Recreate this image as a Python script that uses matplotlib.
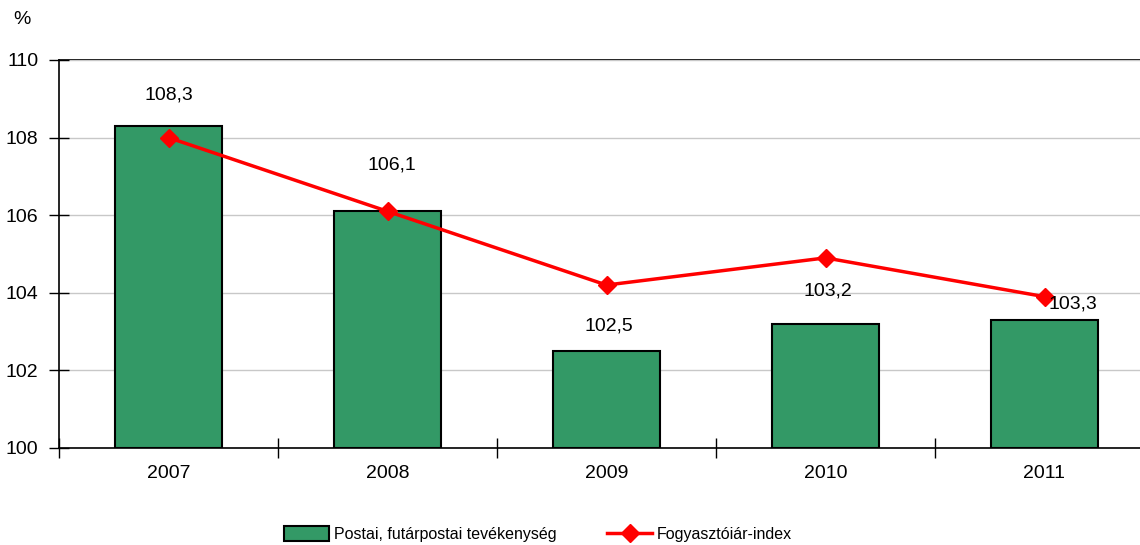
import matplotlib.pyplot as plt
import numpy as np

plt.rcParams['font.family'] = ['Liberation Sans', 'DejaVu Sans']

years = ['2007', '2008', '2009', '2010', '2011']
postai = [108.3, 106.1, 102.5, 103.2, 103.3]
fogyar = [108.0, 106.1, 104.2, 104.9, 103.9]
labels = ['108,3', '106,1', '102,5', '103,2', '103,3']

x = np.arange(len(years))
fs = 14

fig = plt.figure(figsize=(11.4, 5.45), dpi=100)
ax = fig.add_axes([59/1140, 1-448/545, 1095/1140, 388/545])

b = ax.bar(x, [v - 100 for v in postai], bottom=100, width=0.49,
           color='#339966', edgecolor='black', linewidth=1.5, zorder=2,
           label='Postai, futárpostai tevékenység')
l, = ax.plot(x, fogyar, color='#ff0000', lw=2.5, marker='D', ms=9,
             zorder=3, label='Fogyasztóiár-index')

# data labels
lab_y = [109.1, 107.3, 103.15, 104.05, 103.7]
lab_dx = [0, 0.02, 0.01, 0.01, 0.13]
for i, t in enumerate(labels):
    ax.text(x[i] + lab_dx[i], lab_y[i], t, ha='center', va='center', fontsize=fs)

ax.set_xlim(-0.5, 4.5)
ax.set_ylim(100, 110)
ax.set_yticks(np.arange(100, 111, 2))
ax.set_yticklabels([str(v) for v in range(100, 111, 2)], fontsize=fs)
ax.set_xticks(x)
ax.set_xticklabels(years, fontsize=fs)
ax.set_xticks(np.arange(-0.5, 4.6, 1), minor=True)
ax.tick_params(axis='x', which='major', length=0, pad=12)
ax.tick_params(axis='x', which='minor', direction='inout', length=14, width=1)
ax.tick_params(axis='y', direction='inout', length=14, width=1, pad=8)

ax.grid(axis='y', color='#c8c8c8', lw=1, zorder=0)
ax.axhline(110, color='black', lw=1.2, zorder=1, clip_on=False)
for s in ['top', 'right']:
    ax.spines[s].set_visible(False)
ax.spines['left'].set_linewidth(1.2)
ax.spines['bottom'].set_linewidth(1.2)

fig.text(22/1140, 1-20/545, '%', fontsize=fs, ha='center', va='center')

fig.legend([b, l], ['Postai, futárpostai tevékenység', 'Fogyasztóiár-index'],
           loc='center', bbox_to_anchor=(0.472, 0.02), ncol=2, frameon=False,
           fontsize=11.5, columnspacing=3.2, handlelength=2.8, handleheight=1.0,
           handletextpad=0.3, borderpad=0.05)

fig.savefig('out.png', dpi=100)
